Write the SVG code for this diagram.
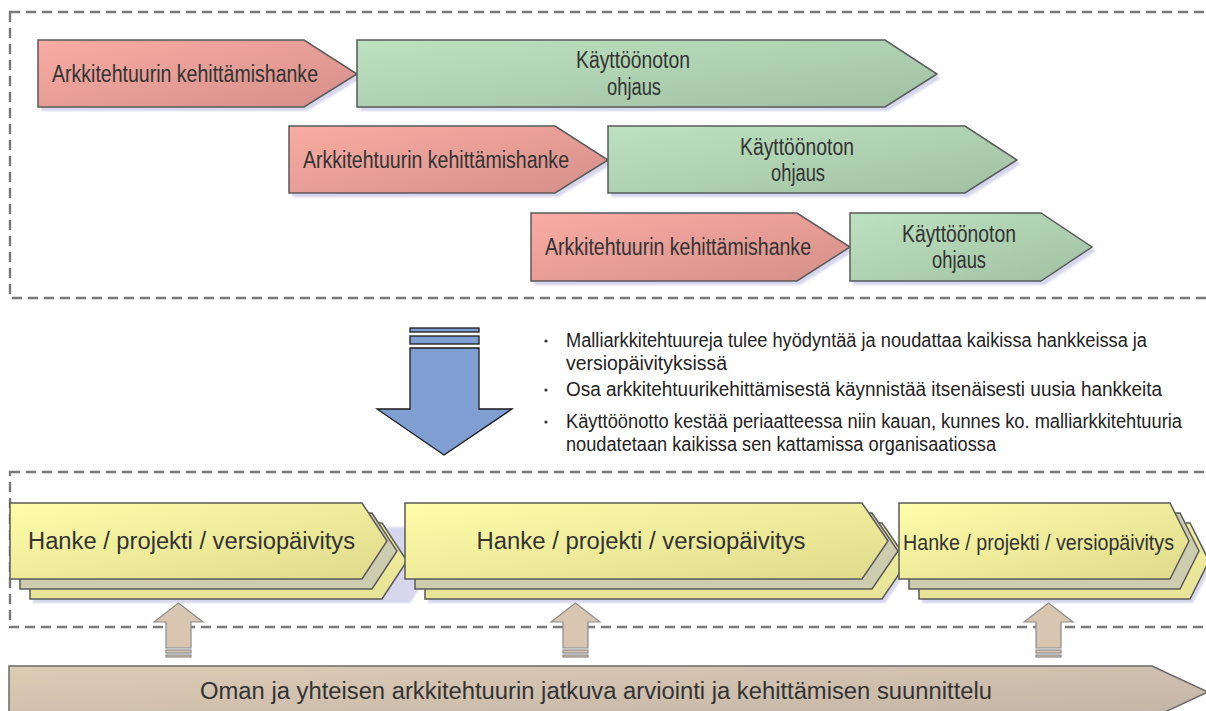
<svg xmlns="http://www.w3.org/2000/svg" width="1206" height="711" viewBox="0 0 1206 711">
  <defs>
    <linearGradient id="gRed" x1="0" y1="0" x2="1" y2="1">
      <stop offset="0" stop-color="#f9aca3"/>
      <stop offset="1" stop-color="#d48f89"/>
    </linearGradient>
    <linearGradient id="gGreen" x1="0" y1="0" x2="1" y2="1">
      <stop offset="0" stop-color="#bde2c0"/>
      <stop offset="1" stop-color="#a0c1a2"/>
    </linearGradient>
    <linearGradient id="gYellow" x1="0" y1="0" x2="1" y2="1">
      <stop offset="0" stop-color="#fefda9"/>
      <stop offset="1" stop-color="#dfda8c"/>
    </linearGradient>
    <linearGradient id="gYellowBack" x1="0" y1="0" x2="0" y2="1">
      <stop offset="0" stop-color="#f3ef9e"/>
      <stop offset="1" stop-color="#e7e397"/>
    </linearGradient>
    <linearGradient id="gBeige" x1="0" y1="0" x2="1" y2="1">
      <stop offset="0" stop-color="#ddcbb4"/>
      <stop offset="1" stop-color="#c2b4a7"/>
    </linearGradient>
    <filter id="soft" x="-5%" y="-20%" width="110%" height="140%">
      <feGaussianBlur stdDeviation="1.2"/>
    </filter>
  </defs>
  <style>
    .frame { fill: none; stroke: #7a7a7a; stroke-width: 2.4; stroke-dasharray: 10 6; }
    .shadow { fill: #d6d6ec; filter: url(#soft); }
    .red { fill: url(#gRed); stroke: #5a5a5a; stroke-width: 1.5; }
    .green { fill: url(#gGreen); stroke: #5a5a5a; stroke-width: 1.5; }
    .yel { fill: url(#gYellow); stroke: #5a5a5a; stroke-width: 1.5; }
    .yelMid { fill: #cdccae; stroke: #5a5a5a; stroke-width: 1.5; }
    .yelBack { fill: url(#gYellowBack); stroke: #5a5a5a; stroke-width: 1.5; }
    .beige { fill: url(#gBeige); stroke: #6a6a6a; stroke-width: 1.5; }
    .up { fill: #d8c6b0; stroke: #8c8c8c; stroke-width: 1.2; }
    .down { fill: #7f9fd2; stroke: #1a1a1a; stroke-width: 1.3; }
    .narrow { font-family: "Liberation Sans Narrow", "Liberation Sans", Arial, sans-serif; fill: #333333; }
    .sans { font-family: "Liberation Sans", Arial, sans-serif; fill: #333333; }
    .bul { font-family: "Liberation Sans Narrow", "Liberation Sans", Arial, sans-serif; fill: #222222; font-size: 20px; }
    .dot { fill: #333333; }
  </style>

  <!-- dashed frames -->
  <g id="frames">
    <rect class="frame" x="10" y="12" width="1215" height="286"/>
    <rect class="frame" x="10" y="472" width="1215" height="155"/>
  </g>

  <!-- row 1 -->
  <g id="row1-dev">
    <polygon class="shadow" points="41,44 307,44 361,78 307,111 41,111"/>
    <polygon class="red" points="38,40 304,40 357,74 304,107 38,107"/>
    <text class="narrow" x="52" y="82" font-size="23" textLength="266" lengthAdjust="spacingAndGlyphs">Arkkitehtuurin kehittämishanke</text>
  </g>
  <g id="row1-use">
    <polygon class="shadow" points="360,44 888,44 941,78 888,111 360,111"/>
    <polygon class="green" points="357,40 885,40 937,74 885,107 357,107"/>
    <text class="narrow" x="633" y="68" font-size="23" text-anchor="middle" textLength="114" lengthAdjust="spacingAndGlyphs">Käyttöönoton</text>
    <text class="narrow" x="634" y="95" font-size="23" text-anchor="middle" textLength="54" lengthAdjust="spacingAndGlyphs">ohjaus</text>
  </g>

  <!-- row 2 -->
  <g id="row2-dev">
    <polygon class="shadow" points="292,130 558,130 612,164 558,197 292,197"/>
    <polygon class="red" points="289,126 555,126 608,160 555,193 289,193"/>
    <text class="narrow" x="303" y="168" font-size="23" textLength="266" lengthAdjust="spacingAndGlyphs">Arkkitehtuurin kehittämishanke</text>
  </g>
  <g id="row2-use">
    <polygon class="shadow" points="611,130 968,130 1021,164 968,197 611,197"/>
    <polygon class="green" points="608,126 965,126 1017,160 965,193 608,193"/>
    <text class="narrow" x="797" y="155" font-size="23" text-anchor="middle" textLength="114" lengthAdjust="spacingAndGlyphs">Käyttöönoton</text>
    <text class="narrow" x="798" y="181" font-size="23" text-anchor="middle" textLength="54" lengthAdjust="spacingAndGlyphs">ohjaus</text>
  </g>

  <!-- row 3 -->
  <g id="row3-dev">
    <polygon class="shadow" points="534,217 800,217 854,251 800,285 534,285"/>
    <polygon class="red" points="531,213 797,213 850,247 797,281 531,281"/>
    <text class="narrow" x="545" y="255" font-size="23" textLength="266" lengthAdjust="spacingAndGlyphs">Arkkitehtuurin kehittämishanke</text>
  </g>
  <g id="row3-use">
    <polygon class="shadow" points="853,217 1044,217 1096,251 1044,285 853,285"/>
    <polygon class="green" points="850,213 1041,213 1092,247 1041,281 850,281"/>
    <text class="narrow" x="959" y="242" font-size="23" text-anchor="middle" textLength="114" lengthAdjust="spacingAndGlyphs">Käyttöönoton</text>
    <text class="narrow" x="959" y="268" font-size="23" text-anchor="middle" textLength="54" lengthAdjust="spacingAndGlyphs">ohjaus</text>
  </g>

  <!-- downward block arrow -->
  <g id="down-arrow">
    <rect class="down" x="410" y="328" width="69" height="4"/>
    <rect class="down" x="410" y="336" width="69" height="8"/>
    <polygon class="down" points="410,348 479,348 479,409 512,409 444,455 377,409 410,409"/>
  </g>

  <!-- notes -->
  <g id="notes">
    <circle class="dot" cx="546" cy="341" r="1.6"/>
    <text class="bul" x="566" y="347" textLength="581" lengthAdjust="spacingAndGlyphs">Malliarkkitehtuureja tulee hyödyntää ja noudattaa kaikissa hankkeissa ja</text>
    <text class="bul" x="566" y="370" textLength="161" lengthAdjust="spacingAndGlyphs">versiopäivityksissä</text>
    <circle class="dot" cx="546" cy="390" r="1.6"/>
    <text class="bul" x="566" y="396" textLength="596" lengthAdjust="spacingAndGlyphs">Osa arkkitehtuurikehittämisestä  käynnistää itsenäisesti uusia hankkeita</text>
    <circle class="dot" cx="546" cy="422" r="1.6"/>
    <text class="bul" x="566" y="428" textLength="616" lengthAdjust="spacingAndGlyphs">Käyttöönotto kestää periaatteessa niin kauan, kunnes ko. malliarkkitehtuuria</text>
    <text class="bul" x="566" y="451" textLength="430" lengthAdjust="spacingAndGlyphs">noudatetaan kaikissa sen kattamissa organisaatiossa</text>
  </g>

  <!-- project stacks -->
  <g id="project1">
    <polygon class="shadow" points="33,527 410,527 435,565 410,603 33,603"/>
    <polygon class="yelBack" points="30,523 382,523 407,561 382,599 30,599"/>
    <polygon class="yelMid" points="20,513 372,513 397,551 372,589 20,589"/>
    <polygon class="yel" points="10,503 362,503 387,541 362,579 10,579"/>
    <text class="sans" x="28" y="549" font-size="23" textLength="327" lengthAdjust="spacingAndGlyphs">Hanke / projekti / versiopäivitys</text>
  </g>
  <g id="project2">
    <polygon class="shadow" points="428,527 885,527 911,565 885,603 428,603"/>
    <polygon class="yelBack" points="425,523 882,523 908,561 882,599 425,599"/>
    <polygon class="yelMid" points="415,513 872,513 898,551 872,589 415,589"/>
    <polygon class="yel" points="405,503 862,503 888,541 862,579 405,579"/>
    <text class="sans" x="641" y="549" font-size="23" text-anchor="middle" textLength="329" lengthAdjust="spacingAndGlyphs">Hanke / projekti / versiopäivitys</text>
  </g>
  <g id="project3">
    <polygon class="shadow" points="922,527 1193,527 1212,565 1193,603 922,603"/>
    <polygon class="yelBack" points="919,523 1190,523 1209,561 1190,599 919,599"/>
    <polygon class="yelMid" points="909,513 1180,513 1199,551 1180,589 909,589"/>
    <polygon class="yel" points="899,503 1170,503 1189,541 1170,579 899,579"/>
    <text class="narrow" x="903" y="550" font-size="22" textLength="271" lengthAdjust="spacingAndGlyphs">Hanke / projekti / versiopäivitys</text>
  </g>

  <!-- upward arrows -->
  <g id="up-arrow1">
    <polygon class="up" points="166,648 166,622 154,622 178.5,603 203,622 191,622 191,648"/>
    <rect class="up" x="166" y="650" width="25" height="3"/>
    <rect class="up" x="166" y="655" width="25" height="2"/>
  </g>
  <g id="up-arrow2">
    <polygon class="up" points="563,648 563,622 551,622 575.5,603 600,622 588,622 588,648"/>
    <rect class="up" x="563" y="650" width="25" height="3"/>
    <rect class="up" x="563" y="655" width="25" height="2"/>
  </g>
  <g id="up-arrow3">
    <polygon class="up" points="1036,648 1036,622 1024,622 1048.5,603 1073,622 1061,622 1061,648"/>
    <rect class="up" x="1036" y="650" width="25" height="3"/>
    <rect class="up" x="1036" y="655" width="25" height="2"/>
  </g>

  <!-- continuous assessment bar -->
  <g id="assessment">
    <polygon class="beige" points="9,666 1152,666 1208,692 1152,718 9,718"/>
    <text class="sans" x="200" y="699" font-size="23" textLength="792" lengthAdjust="spacingAndGlyphs">Oman ja yhteisen arkkitehtuurin jatkuva arviointi ja kehittämisen suunnittelu</text>
  </g>
</svg>
